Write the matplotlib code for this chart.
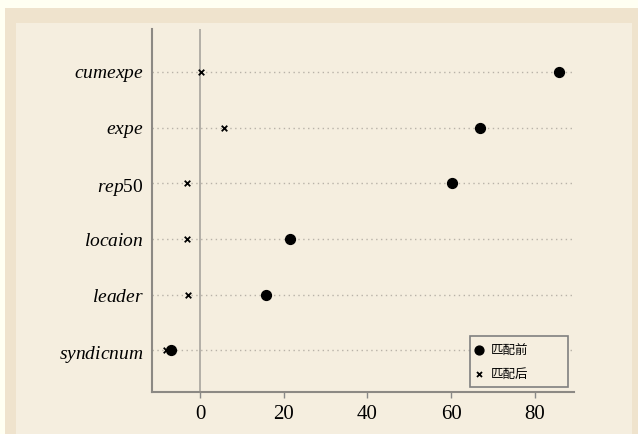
import numpy as np
import matplotlib.pyplot as plt
from matplotlib.patches import Rectangle

plt.rcParams['font.family'] = ['Liberation Serif', 'Noto Sans CJK SC', 'DejaVu Sans']
plt.rcParams['mathtext.fontset'] = 'custom'
plt.rcParams['mathtext.rm'] = 'Liberation Serif'
plt.rcParams['mathtext.it'] = 'Liberation Serif:italic'

variables = ['syndicnum', 'leader', 'locaion', 'rep50', 'expe', 'cumexpe']
var_labels = [r'$\mathit{syndicnum}$', r'$\mathit{leader}$', r'$\mathit{locaion}$',
              r'$\mathit{rep}$50', r'$\mathit{expe}$', r'$\mathit{cumexpe}$']
before = [-6.9, 15.8, 21.5, 60.2, 66.9, 85.8]
after = [-8.1, -2.9, -3.1, -3.1, 5.7, 0.2]
xticks = [0, 20, 40, 60, 80]

fig = plt.figure(figsize=(6.38, 4.35), dpi=100)
fig.patch.set_facecolor('#FFFFF2')
# outer frame and inner panel
fig.patches.append(Rectangle((5/638, 0), 633/638, 426/435, transform=fig.transFigure,
                             facecolor='#EFE3CD', edgecolor='none', zorder=-2))
fig.patches.append(Rectangle((16/638, 0), 616/638, 411/435, transform=fig.transFigure,
                             facecolor='#F5EEDF', edgecolor='none', zorder=-1))

ax = fig.add_axes([152/638, 42/435, 422/638, 363/435])
ax.set_facecolor('none')

y = np.arange(1, len(variables) + 1)
for yi in y:
    ax.axhline(yi, color='#B8B2A8', lw=1, ls=(0, (1, 2.5)), zorder=1)
ax.axvline(0, color='#A8A49E', lw=1.2, zorder=1)

ax.scatter(before, y, s=50, color='black', marker='o', zorder=3, label='匹配前')
ax.scatter(after, y, s=16, color='black', marker='x', linewidths=1.3, zorder=3, label='匹配后')

ax.set_xlim(-11.5, 89.4)
ax.set_ylim(0.25, 6.77)
ax.set_xticks(xticks)
ax.set_xticklabels([str(t) for t in xticks], fontsize=15)
ax.set_yticks(y)
ax.set_yticklabels(var_labels, fontsize=14)
ax.tick_params(axis='y', length=0, pad=6)
ax.tick_params(axis='x', length=4, width=1, color='#888888', pad=5)

for s in ['top', 'right']:
    ax.spines[s].set_visible(False)
for s in ['left', 'bottom']:
    ax.spines[s].set_color('#8C8984')
    ax.spines[s].set_linewidth(1.5)

leg = ax.legend(loc='lower left', mode='expand',
                bbox_to_anchor=((470 - 152)/422, 5/363, 98/422, 49/363), fontsize=9,
                frameon=True, fancybox=False, edgecolor='#808080',
                facecolor='#F5EEDF', framealpha=1, handletextpad=0.75,
                borderpad=0.55, borderaxespad=0, labelspacing=0.9, handlelength=0.4,
                markerscale=0.9)
leg.get_frame().set_linewidth(1.2)
for t in leg.get_texts():
    t.set_family(['Noto Sans CJK SC'])

fig.savefig('out.png', dpi=100, facecolor=fig.get_facecolor())
